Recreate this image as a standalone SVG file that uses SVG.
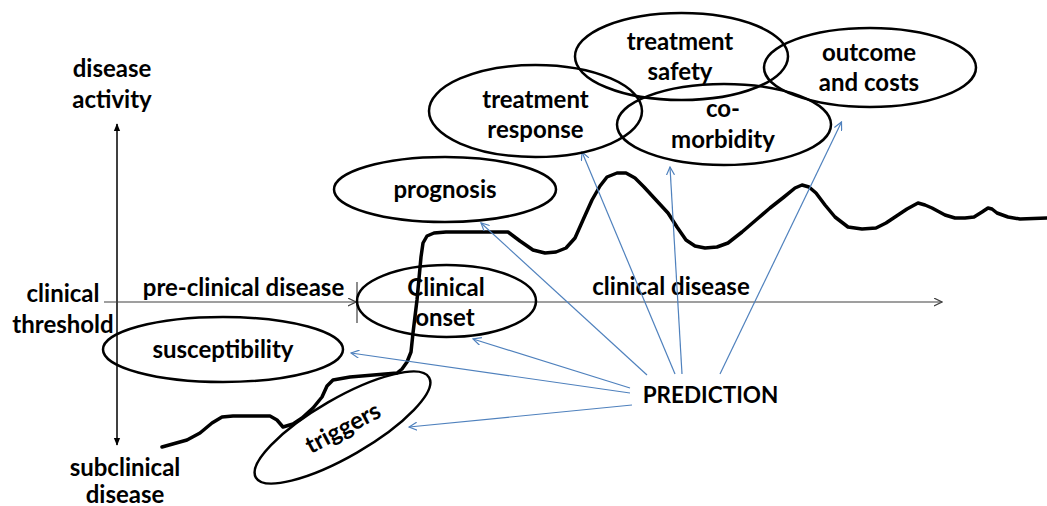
<svg xmlns="http://www.w3.org/2000/svg" width="1047" height="506" viewBox="0 0 1047 506">
<defs>
<style>
text{font-family:Lato,"Liberation Sans",sans-serif;font-weight:bold;font-size:24px;fill:#000;text-anchor:middle}
.el{fill:none;stroke:#000;stroke-width:2.5}
.blue{stroke:#4F81BD;stroke-width:1.2;fill:none;marker-end:url(#ob)}
.axis{stroke:#404040;stroke-width:1.2;fill:none}
</style>
<marker id="ob" viewBox="0 0 10 10" refX="9" refY="5" markerWidth="9" markerHeight="9" markerUnits="userSpaceOnUse" orient="auto">
<path d="M0,0.5 L9,5 L0,9.5" fill="none" stroke="#4F81BD" stroke-width="1.3"/>
</marker>
<marker id="og" viewBox="0 0 10 10" refX="9" refY="5" markerWidth="9" markerHeight="9" markerUnits="userSpaceOnUse" orient="auto">
<path d="M0,0.5 L9,5 L0,9.5" fill="none" stroke="#404040" stroke-width="1.3"/>
</marker>
<marker id="fb" viewBox="0 0 10 10" refX="9" refY="5" markerWidth="8" markerHeight="8" markerUnits="userSpaceOnUse" orient="auto-start-reverse">
<path d="M0,1 L10,5 L0,9 Z" fill="#000"/>
</marker>
</defs>
<rect width="1047" height="506" fill="#fff"/>

<g id="axes">
<line x1="117" y1="124" x2="117" y2="445" stroke="#000" stroke-width="1.5" marker-start="url(#fb)" marker-end="url(#fb)"/>
<line class="axis" x1="104" y1="302" x2="356" y2="302" marker-end="url(#og)"/>
<line class="axis" x1="357" y1="282" x2="357" y2="323"/>
<line class="axis" x1="357" y1="302" x2="942" y2="302" marker-end="url(#og)"/>
<text x="112" y="77">disease</text>
<text x="112" y="108">activity</text>
<text x="63" y="302">clinical</text>
<text x="63" y="333">threshold</text>
<text x="125" y="476">subclinical</text>
<text x="125" y="503">disease</text>
<text x="243.5" y="296">pre-clinical disease</text>
<text x="671" y="295">clinical disease</text>
</g>

<g id="curve">
<path d="M162,447 L187,440 L200,433 L212,423 L222,417 L233,416 L270,416 L277,420 L283,427 L293,424 L302,418 L313,408 L322,397 L327,386 L333,380 L350,377 L397,373 L402,369 L407,362 L411,352 L413,333 L417,300 L421,257 L423,243 L427,236 L434,233 L446,232 L508,232 L520,241 L533,250 L545,253 L556,252 L566,248 L575,238 L583,220 L592,200 L600,186 L607,177 L617,173 L626,173 L635,178 L644,187 L656,200 L668,213 L677,227 L686,240 L695,246 L705,248 L717,247 L728,243 L742,232 L756,220 L770,208 L784,197 L795,188 L802,185 L809,187 L816,193 L825,205 L835,217 L848,227 L862,229 L876,228 L886,223 L895,217 L907,209 L918,203 L925,205 L932,208 L945,215 L955,218 L965,218 L974,217 L982,212 L988,208 L992,209 L997,213 L1008,217 L1020,219 L1047,218" fill="none" stroke="#000" stroke-width="3.5" stroke-linejoin="round" stroke-linecap="round"/>
</g>

<g id="connectors">
<line class="blue" x1="647" y1="375" x2="481" y2="223"/>
<line class="blue" x1="675" y1="374" x2="582" y2="152"/>
<line class="blue" x1="682" y1="374" x2="670" y2="167"/>
<line class="blue" x1="720" y1="374" x2="841.5" y2="122"/>
<line class="blue" x1="630" y1="388" x2="473" y2="339"/>
<line class="blue" x1="630" y1="393" x2="351" y2="353"/>
<line class="blue" x1="632" y1="405" x2="409" y2="427"/>
</g>

<g id="treatment-safety">
<ellipse class="el" cx="681.5" cy="56.5" rx="106.5" ry="43.5"/>
<text x="680" y="50">treatment</text>
<text x="680" y="80">safety</text>
</g>
<g id="outcome-costs">
<ellipse class="el" cx="870" cy="67.5" rx="106" ry="39.5"/>
<text x="869" y="61">outcome</text>
<text x="869" y="91">and costs</text>
</g>
<g id="treatment-response">
<ellipse class="el" cx="535.5" cy="111" rx="106.5" ry="46"/>
<text x="535.5" y="108">treatment</text>
<text x="535.5" y="138">response</text>
</g>
<g id="co-morbidity">
<ellipse class="el" cx="724" cy="124.5" rx="107" ry="40.5"/>
<text x="723" y="117">co-</text>
<text x="723" y="148">morbidity</text>
</g>
<g id="prognosis">
<ellipse class="el" cx="445" cy="189.5" rx="111" ry="32.5"/>
<text x="445" y="198">prognosis</text>
</g>
<g id="clinical-onset">
<ellipse class="el" cx="446.5" cy="301" rx="89.5" ry="36"/>
<text x="446" y="296">Clinical</text>
<text x="445" y="326">onset</text>
</g>
<g id="susceptibility">
<ellipse class="el" cx="223" cy="349.5" rx="120" ry="32.5"/>
<text x="223" y="358">susceptibility</text>
</g>
<g id="triggers">
<ellipse class="el" cx="342.5" cy="427.5" rx="100" ry="29" transform="rotate(-30 342.5 427.5)"/>
<text x="0" y="8" transform="translate(343 428) rotate(-28)">triggers</text>
</g>
<g id="prediction">
<text x="710.5" y="403" style="font-size:22.5px">PREDICTION</text>
</g>
</svg>
